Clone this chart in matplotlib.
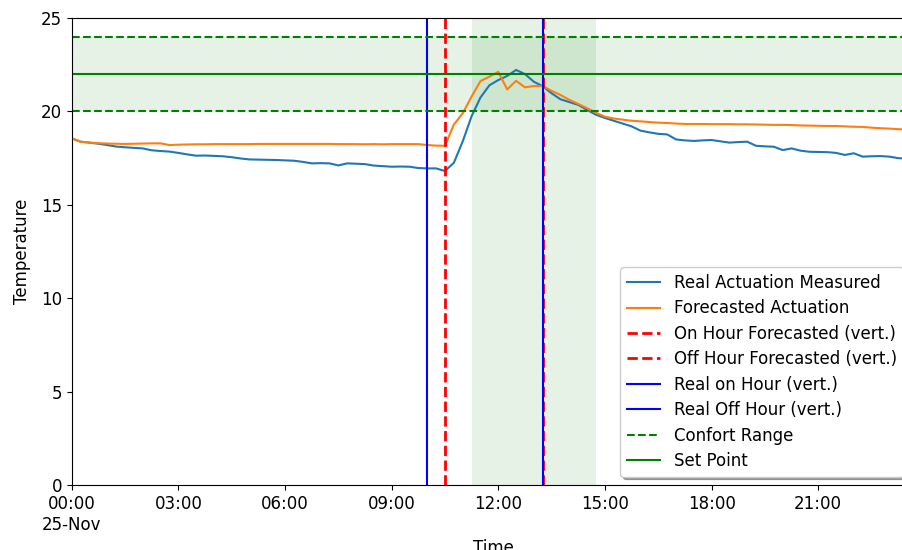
import matplotlib
matplotlib.use("Agg")
import matplotlib.pyplot as plt
import matplotlib.dates as mdates
import matplotlib.ticker as mticker
import pandas as pd

plt.rcParams["font.family"] = ["DejaVu Sans"]
plt.rcParams["font.size"] = 12

# 15-minute samples over 25 November
times = pd.date_range("2019-11-25 00:00", periods=96, freq="15min")

real_measured = [
    18.56, 18.38, 18.33, 18.27, 18.20, 18.12, 18.08, 18.05, 18.02, 17.92,
    17.88, 17.85, 17.78, 17.70, 17.63, 17.64, 17.62, 17.60, 17.55, 17.48,
    17.43, 17.42, 17.41, 17.40, 17.38, 17.36, 17.30, 17.22, 17.23, 17.22,
    17.11, 17.22, 17.20, 17.18, 17.10, 17.07, 17.04, 17.05, 17.04, 16.97,
    16.95, 16.95, 16.81, 17.25, 18.40, 19.75, 20.75, 21.40, 21.68, 21.90,
    22.22, 22.00, 21.59, 21.35, 20.97, 20.65, 20.50, 20.35, 20.08, 19.82,
    19.65, 19.50, 19.35, 19.20, 18.97, 18.88, 18.80, 18.77, 18.50, 18.45,
    18.42, 18.45, 18.47, 18.40, 18.33, 18.36, 18.38, 18.16, 18.13, 18.11,
    17.93, 18.02, 17.90, 17.84, 17.83, 17.82, 17.78, 17.67, 17.76, 17.58,
    17.60, 17.61, 17.58, 17.50, 17.47, 17.45,
]

forecasted = [
    18.56, 18.38, 18.33, 18.30, 18.28, 18.27, 18.26, 18.27, 18.28, 18.29,
    18.29, 18.20, 18.22, 18.23, 18.24, 18.24, 18.25, 18.25, 18.25, 18.25,
    18.25, 18.26, 18.26, 18.26, 18.26, 18.26, 18.26, 18.26, 18.26, 18.26,
    18.25, 18.25, 18.25, 18.24, 18.25, 18.24, 18.25, 18.25, 18.25, 18.25,
    18.20, 18.17, 18.16, 19.30, 19.90, 20.80, 21.63, 21.86, 22.12, 21.18,
    21.64, 21.29, 21.36, 21.36, 21.10, 20.88, 20.62, 20.40, 20.17, 19.93,
    19.72, 19.62, 19.56, 19.50, 19.47, 19.43, 19.40, 19.38, 19.35, 19.33,
    19.33, 19.33, 19.32, 19.32, 19.32, 19.31, 19.31, 19.30, 19.29, 19.28,
    19.28, 19.27, 19.25, 19.24, 19.23, 19.22, 19.22, 19.20, 19.18, 19.17,
    19.13, 19.10, 19.08, 19.05, 19.03, 19.00,
]

on_forecast = pd.Timestamp("2019-11-25 10:30")
off_forecast = pd.Timestamp("2019-11-25 13:15")
on_real = pd.Timestamp("2019-11-25 10:00")
off_real = pd.Timestamp("2019-11-25 13:15")
occupied_start = pd.Timestamp("2019-11-25 11:15")
occupied_end = pd.Timestamp("2019-11-25 14:45")

comfort_low, comfort_high = 20, 24
set_point = 22

fig = plt.figure(figsize=(9.03, 5.5), dpi=100)
ax = fig.add_axes([0.0794, 0.1182, 0.935, 0.849])

ax.axhspan(comfort_low, comfort_high, color="green", alpha=0.1, lw=0)
ax.axvspan(occupied_start, occupied_end, color="green", alpha=0.1, lw=0)

ax.plot(times, real_measured, color="#1f77b4", lw=1.5, label="Real Actuation Measured")
ax.plot(times, forecasted, color="#ff7f0e", lw=1.5, label="Forecasted Actuation")
ax.axvline(on_forecast, color="red", ls="--", lw=2, label="On Hour Forecasted (vert.)")
ax.axvline(off_forecast, color="red", ls="--", lw=2, label="Off Hour Forecasted (vert.)")
ax.axvline(on_real, color="blue", lw=1.5, label="Real on Hour (vert.)")
ax.axvline(off_real, color="blue", lw=1.5, label="Real Off Hour (vert.)")
ax.axhline(comfort_high, color="green", ls="--", lw=1.5, label="Confort Range")
ax.axhline(comfort_low, color="green", ls="--", lw=1.5)
ax.axhline(set_point, color="green", lw=1.5, label="Set Point")

ax.set_xlim(times[0], times[-1])
ax.set_ylim(0, 25)
ax.set_yticks([0, 5, 10, 15, 20, 25])

ax.xaxis.set_major_locator(mdates.HourLocator(byhour=range(0, 24, 3)))


def time_label(x, pos):
    d = mdates.num2date(x)
    if d.hour == 0 and d.minute == 0 and pos == 0:
        return d.strftime("%H:%M") + "\n" + d.strftime("%d-%b")
    return d.strftime("%H:%M")


ax.xaxis.set_major_formatter(mticker.FuncFormatter(time_label))

ax.set_xlabel("Time")
ax.set_ylabel("Temperature", labelpad=7)

ax.legend(loc="lower right", bbox_to_anchor=(0.995, 0.0), shadow=True,
          fontsize=12, labelspacing=0.445)

fig.savefig("out.png", dpi=100)
